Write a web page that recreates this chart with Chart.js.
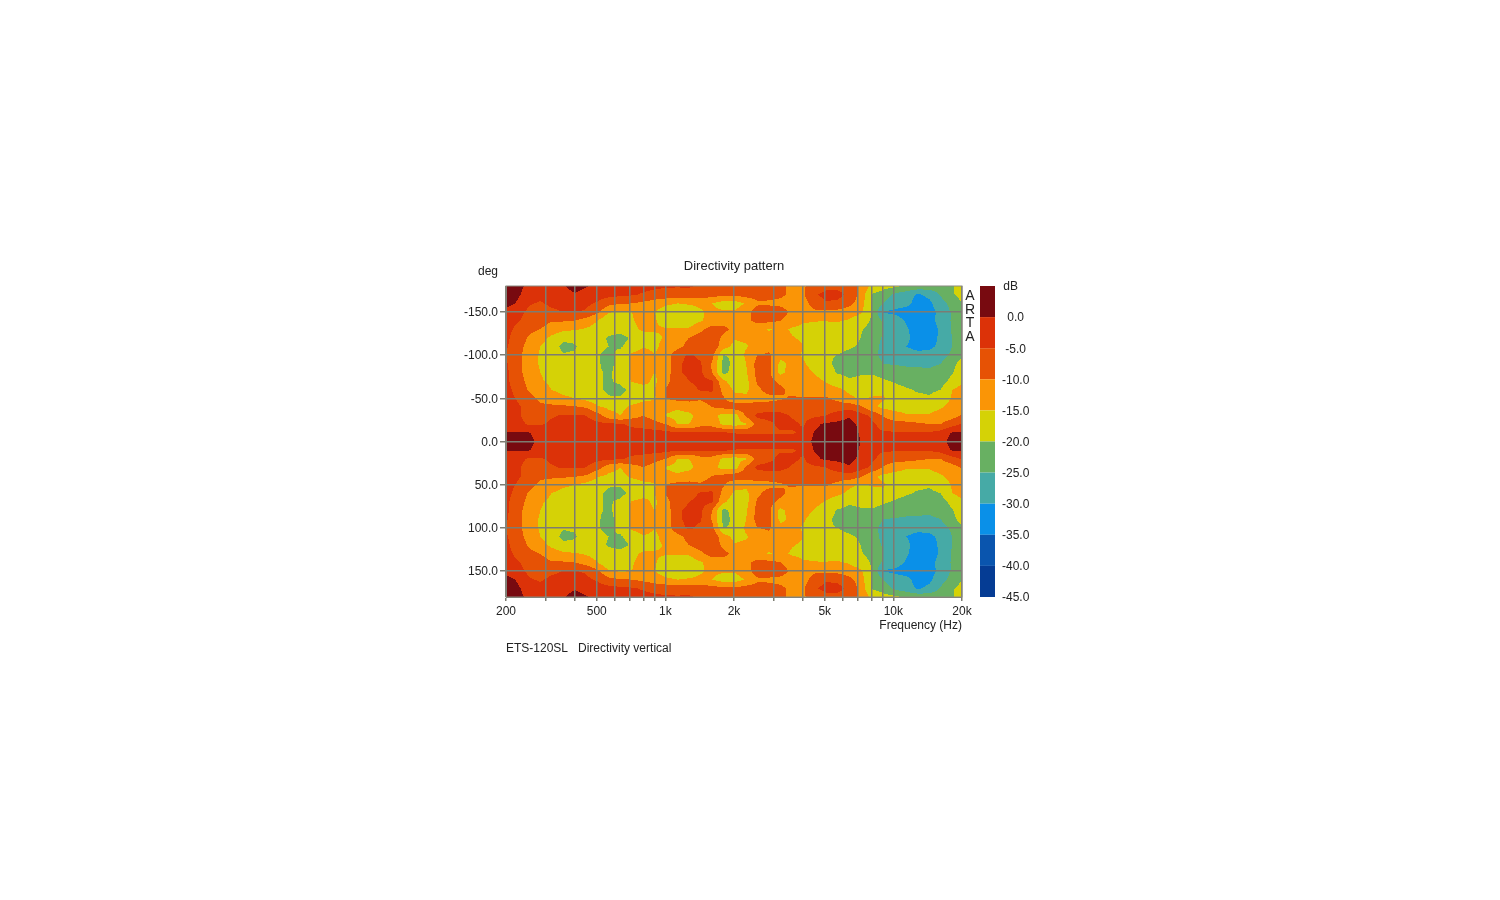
<!DOCTYPE html>
<html>
<head>
<meta charset="utf-8">
<title>Directivity pattern</title>
<script src="https://cdn.jsdelivr.net/npm/chart.js@4"></script>
<style>
  html, body { margin: 0; padding: 0; background: #fff; }
  #wrap { width: 1500px; height: 900px; }
</style>
</head>
<body>
<div id="wrap"><canvas id="chartCanvas" width="1500" height="900"></canvas></div>
<script>
// frequency columns (Hz)
var freqs = [200,224,252,283,317,356,400,449,504,566,635,713,800,898,1008,1131,1270,1425,1600,1796,2016,2263,2540,2851,3200,3592,4032,4525,5080,5702,6400,7184,8063,9051,10159,11404,12800,14368,16127,18102,20000];
// angle rows (deg), the pattern is mirrored around 0
var angles = [0,10,20,30,40,50,60,70,80,90,100,110,120,130,140,150,160,170,180];

// dB, one array per angle
var db0 = [3,3,1.5,-1.5,-2,-2,-2,-2,-2,-2,-2,-2,-2,-2,-2,-2,-2,-2,-2,-2,-2,-2,-2,-2,-2,-2,-2,1,2.5,3,3,0,-2,-2,-2,-2,-2,-2,-1.5,1.5,2.5];
var db10 = [.5,.5,.3,-2,-3,-3,-3,-3,-3,-3,-3,-3,-3,-3,-3.5,-4.2,-4.2,-4.2,-4.2,-4.2,-5.2,-5.5,-5.5,-5.5,-5.5,-5.5,-4,.5,1.5,2,2,-.5,-3.5,-4.5,-4.5,-4.5,-4.5,-4.5,-3,.5,.5];
var db20 = [-3,-3.5,-5.5,-5.5,-4,-3,-3,-3,-3.5,-4,-4.5,-6,-7,-8.5,-10,-15,-15,-12,-12,-16,-17,-15.5,-7.5,-6,-4,-4,-5.5,-1,1,1,1.5,-1,-4,-7,-8,-8,-9,-10,-10,-7,-4.5];
var db30 = [-3,-4,-7,-7.5,-5.5,-4.5,-4.5,-5,-8,-13,-15,-12,-10,-12,-15.5,-17,-16.5,-12.5,-13,-17,-17.5,-9,-4,-3.5,-3.5,-5.5,-6.5,-6,-5,-2,-.5,-3,-6,-10.5,-13,-14.5,-14.5,-14.5,-13,-12,-9.5];
var db40 = [-1,-4,-7,-9,-9,-9,-9.5,-10.5,-14.5,-16,-16.5,-14,-13,-13,-13,-14,-12.5,-12,-10,-8.5,-7,-7,-7,-7.5,-7.5,-8,-8.5,-8.5,-8.5,-8,-7,-9,-14,-16,-17,-17,-17.5,-17,-15.5,-13.5,-13];
var db50 = [-3,-5.5,-8.5,-11,-12.5,-14,-15,-16.5,-18,-19.5,-19.5,-18,-16,-15.5,-10,-8.5,-8.5,-9.5,-8,-9.5,-13,-14,-12,-11.5,-10.5,-9.5,-9.5,-9.5,-9.5,-11,-14,-15.5,-14.5,-14.5,-17,-18.5,-19,-19.5,-18,-14.5,-14];
var db60 = [-3.5,-6.5,-10.5,-13,-15,-16.5,-17.5,-18.5,-19,-21,-21.5,-18.5,-17,-15,-9.5,-9,-7,-4.5,-4,-11.5,-16,-16,-11,-8,-9,-11.5,-12.5,-12.5,-13,-14,-16,-17.5,-17,-16,-18.5,-19.5,-20.5,-20.8,-20,-15,-13.5];
var db70 = [-4,-7.5,-11.5,-14.5,-16,-17.5,-18,-18.5,-19.5,-20.5,-19,-14.5,-13.5,-16,-11,-8,-5,-3.5,-4.5,-14,-18,-16.5,-9,-8.5,-11,-12.5,-12.5,-13.5,-15.5,-17.5,-19.5,-19,-18.5,-19.5,-20.5,-21.5,-22,-22.5,-22,-18.5,-15.5];
var db80 = [-4,-8,-12.5,-15,-16.5,-17.5,-18,-18.5,-19.5,-20.5,-18.5,-14,-13,-15,-12.5,-6,-3.5,-4,-10,-21.5,-18,-15.5,-8,-9,-16.5,-12.5,-13,-15.5,-17.5,-20.5,-21,-20.5,-20.5,-21.5,-22,-23,-23.5,-24,-23,-20.5,-17];
var db90 = [-4.5,-8,-13,-15.5,-17,-18,-18,-18.5,-19.5,-21.5,-18,-14,-12.5,-15,-12.5,-6,-3.5,-4.5,-10.5,-21.5,-19,-15,-8,-8.5,-16.5,-13.5,-14.5,-17,-18.5,-21.5,-22,-21.5,-23,-25,-25.5,-26,-26,-26,-25,-21.5,-18];
var db100 = [-5,-8,-13,-15.5,-17,-19.5,-19.3,-18.5,-19.5,-21.5,-18.5,-14,-12.5,-15,-12.5,-7,-4.2,-6,-8,-20,-19.5,-14,-10,-9.5,-13,-13.5,-15.5,-17.5,-19.5,-20,-21,-22,-24,-26,-27.5,-28,-28.5,-28.5,-27,-24,-20.5];
var db110 = [-4.5,-7.5,-12,-15,-17,-21.5,-20.5,-18,-19,-20,-20.5,-18,-15.5,-16,-13,-11.5,-8.5,-6.5,-6,-13,-16.5,-15.5,-12.5,-11,-12.5,-13.5,-15,-15.5,-17.5,-19,-19.5,-20.5,-23.5,-26,-28.5,-30,-31.5,-31,-29,-25,-22];
var db120 = [-4,-7,-10.5,-13.5,-16,-18.5,-18.8,-18,-18.5,-20.5,-21.5,-19.5,-17.5,-16,-14.5,-12,-10,-7.5,-7,-11,-14.5,-14,-13,-13,-13,-14.8,-15.5,-16.5,-17,-18,-18.5,-20,-23,-25.5,-28,-29,-32,-32.5,-29,-25,-22.5];
var db130 = [-3.5,-6,-8.5,-10,-12.5,-14,-14.5,-15.5,-17,-18,-18.5,-16.5,-14,-14.5,-14.5,-14.5,-14.5,-11.5,-7.5,-8.5,-11.5,-13,-13.5,-15.5,-14,-15.5,-16,-16.5,-17,-17.5,-18,-19.5,-21.5,-25,-27.5,-29.5,-32,-33,-29,-24.5,-22.5];
var db140 = [-3,-4.5,-6.5,-8,-9.5,-9.5,-10,-12,-15,-19.5,-18,-15.5,-13,-14.5,-17.5,-18,-17.5,-15.5,-13.5,-12.5,-12,-11,-8.5,-8.5,-10,-13,-14.5,-14.8,-14.8,-14.5,-15.5,-18,-20.5,-26,-28,-30.5,-31.5,-32,-28,-24.5,-22];
var db150 = [-2,-3.5,-6,-7,-6,-4.8,-4.8,-5.5,-9,-14.5,-15.5,-15,-13,-15,-17.5,-18,-17.5,-15.5,-14,-14.5,-14.5,-12.5,-7,-7,-7.5,-11,-12,-11,-11,-11.5,-12.5,-14,-20.5,-30.5,-31,-32,-32.5,-32,-28.5,-24.5,-22];
var db160 = [2,-.5,-4.5,-5.5,-4,-3.5,-3.5,-4,-5.5,-8.5,-9.5,-10,-11,-12.5,-14,-15,-14.5,-14,-15,-17,-17,-14.5,-11,-11,-11.5,-13,-12,-7.5,-5.5,-6,-8.5,-12.5,-20.5,-25,-28,-28.5,-32,-31,-27,-23,-20];
var db170 = [3,1,-2.5,-3.5,-3.5,-3,-.5,-2.5,-3,-3.5,-4,-4.5,-5.5,-6.5,-7,-7.5,-7,-7,-8,-9,-9,-8,-7.5,-8,-9,-11,-10.5,-5.5,-3.5,-3.5,-6,-11.5,-20.5,-22.5,-26,-28,-30.5,-29,-24.5,-20.5,-18.5];
var db180 = [2,1.5,-1,-2.5,-2.5,-.5,2.5,.5,-2,-2.5,-2.5,-3,-3.5,-4,-4.5,-4.5,-4.5,-5.5,-6,-6.5,-7,-7,-7,-7.5,-9,-11,-10.5,-8,-6.5,-6.5,-8,-11,-16,-18,-19,-20.5,-21.5,-22,-21.5,-20.5,-17.5];
var dbRows = [db0,db10,db20,db30,db40,db50,db60,db70,db80,db90,db100,db110,db120,db130,db140,db150,db160,db170,db180];

// tick labels
var freqTicks = [200,300,400,500,600,700,800,900,1000,2000,3000,4000,5000,6000,7000,8000,9000,10000,20000];
var freqLabels = { 200: "200", 500: "500", 1000: "1k", 2000: "2k", 5000: "5k", 10000: "10k", 20000: "20k" };
var angleTicks = [-150,-100,-50,0,50,100,150];
var dbTicks = [5,0,-5,-10,-15,-20,-25,-30,-35,-40,-45];

// colour of each 5 dB band, top of the colour bar first
var bandColors = ["#780a10","#dc3208","#e65205","#fa9506","#d5d206","#68b062","#46aaa6","#0a90e8","#0a55ae","#053c94"];

function rgbOf(hex) {
  return [parseInt(hex.substr(1,2),16), parseInt(hex.substr(3,2),16), parseInt(hex.substr(5,2),16)];
}
var bandRgb = bandColors.map(rgbOf);

// value at a frequency / angle between the read nodes, only used to find the contour band
function dbAt(f, deg) {
  var a = Math.min(Math.abs(deg), 180) / 10;
  var r0 = Math.min(Math.floor(a), angles.length - 2);
  var ta = a - r0;
  var c0 = 0;
  while (c0 < freqs.length - 2 && freqs[c0 + 1] <= f) c0++;
  var tf = Math.log(f / freqs[c0]) / Math.log(freqs[c0 + 1] / freqs[c0]);
  var top = dbRows[r0][c0] * (1 - tf) + dbRows[r0][c0 + 1] * tf;
  var bot = dbRows[r0 + 1][c0] * (1 - tf) + dbRows[r0 + 1][c0 + 1] * tf;
  return top * (1 - ta) + bot * ta;
}

var contourPlugin = {
  id: "contour",
  beforeDraw: function (chart) {
    var area = chart.chartArea, ctx = chart.ctx;
    var xs = chart.scales.x, ys = chart.scales.y, bar = chart.scales.yBar;
    var w = Math.round(area.right - area.left), h = Math.round(area.bottom - area.top);
    var off = document.createElement("canvas");
    off.width = w; off.height = h;
    var octx = off.getContext("2d");
    var img = octx.createImageData(w, h);
    for (var py = 0; py < h; py++) {
      var deg = ys.getValueForPixel(area.top + py + 0.5);
      for (var px = 0; px < w; px++) {
        var f = xs.getValueForPixel(area.left + px + 0.5);
        var band = Math.floor((5 - dbAt(f, deg)) / 5);
        band = Math.max(0, Math.min(bandRgb.length - 1, band));
        var i = (py * w + px) * 4, c = bandRgb[band];
        img.data[i] = c[0]; img.data[i + 1] = c[1]; img.data[i + 2] = c[2]; img.data[i + 3] = 255;
      }
    }
    octx.putImageData(img, 0, 0);
    ctx.save();
    ctx.filter = "blur(0.5px)";
    ctx.beginPath();
    ctx.rect(area.left, area.top, w, h);
    ctx.clip();
    ctx.drawImage(off, area.left, area.top);
    ctx.restore();

    // colour bar
    ctx.save();
    for (var b = 0; b < bandColors.length; b++) {
      var y0 = bar.getPixelForValue(dbTicks[b]);
      var y1 = bar.getPixelForValue(dbTicks[b + 1]);
      ctx.fillStyle = bandColors[b];
      ctx.fillRect(bar.left + 18, y0, 15, y1 - y0);
    }
    ctx.restore();
  },
  afterDraw: function (chart) {
    var area = chart.chartArea, ctx = chart.ctx;
    ctx.save();
    ctx.strokeStyle = "#8a8a80";
    ctx.lineWidth = 1;
    ctx.strokeRect(area.left, area.top, area.right - area.left, area.bottom - area.top);
    ctx.fillStyle = "#222";
    ctx.font = "13px 'Liberation Sans'";
    ctx.textBaseline = "middle";
    ctx.textAlign = "center";
    ctx.fillText("Directivity pattern", (area.left + area.right) / 2, 266);
    ctx.font = "12px 'Liberation Sans'";
    ctx.fillText("deg", 488, 272);
    ctx.textAlign = "right";
    ctx.fillText("Frequency (Hz)", area.right, 626);
    ctx.textAlign = "left";
    ctx.fillText("ETS-120SL   Directivity vertical", area.left, 649);
    ctx.font = "14px 'Liberation Sans'";
    ctx.textAlign = "center";
    var letters = ["A","R","T","A"];
    for (var i = 0; i < letters.length; i++) {
      ctx.fillText(letters[i], 970, 296 + i * 13.8);
    }
    ctx.restore();
  }
};

var points = [];
angles.forEach(function (a, r) {
  freqs.forEach(function (f, c) {
    points.push({ x: f, y: a, v: dbRows[r][c] });
    if (a !== 0) points.push({ x: f, y: -a, v: dbRows[r][c] });
  });
});

Chart.defaults.font.family = "'Liberation Sans'";
Chart.defaults.font.size = 12;
Chart.defaults.color = "#222";

var ctx = document.getElementById("chartCanvas");
var directivityChart = new Chart(ctx, {
  type: "scatter",
  data: {
    datasets: [{ label: "dB", data: points, pointRadius: 0, pointHoverRadius: 0, yAxisID: "y" }]
  },
  options: {
    responsive: false,
    animation: false,
    events: [],
    layout: { padding: { left: 446, right: 468, top: 286, bottom: 273 } },
    plugins: { legend: { display: false }, tooltip: { enabled: false } },
    scales: {
      x: {
        type: "logarithmic",
        min: 200,
        max: 20000,
        afterFit: function (scale) { scale.height = 30; },
        afterBuildTicks: function (scale) {
          scale.ticks = freqTicks.map(function (v) { return { value: v }; });
        },
        border: { color: "#7c7c72", width: 1 },
        grid: { color: "#7c7c72", lineWidth: 1.5, tickLength: 4, tickColor: "#7c7c72" },
        ticks: {
          autoSkip: false,
          maxRotation: 0,
          padding: 3,
          callback: function (value) { return freqLabels[value] || ""; }
        }
      },
      y: {
        type: "linear",
        reverse: true,
        min: -180,
        max: 180,
        afterFit: function (scale) { scale.width = 60; },
        afterBuildTicks: function (scale) {
          scale.ticks = angleTicks.map(function (v) { return { value: v }; });
        },
        border: { color: "#7c7c72", width: 1 },
        grid: { color: "#7c7c72", lineWidth: 1.5, tickLength: 6, tickColor: "#7c7c72" },
        ticks: {
          padding: 2,
          labelOffset: 1,
          callback: function (value) { return value.toFixed(1); }
        }
      },
      yBar: {
        type: "linear",
        position: "right",
        min: -45,
        max: 5,
        afterFit: function (scale) { scale.width = 70; },
        afterBuildTicks: function (scale) {
          scale.ticks = dbTicks.map(function (v) { return { value: v }; });
        },
        border: { display: false },
        grid: { display: false, drawTicks: false },
        ticks: {
          padding: 40,
          crossAlign: "center",
          labelOffset: 1,
          callback: function (value) { return value === 5 ? "dB   " : value.toFixed(1); }
        }
      }
    }
  },
  plugins: [contourPlugin]
});
</script>
</body>
</html>
